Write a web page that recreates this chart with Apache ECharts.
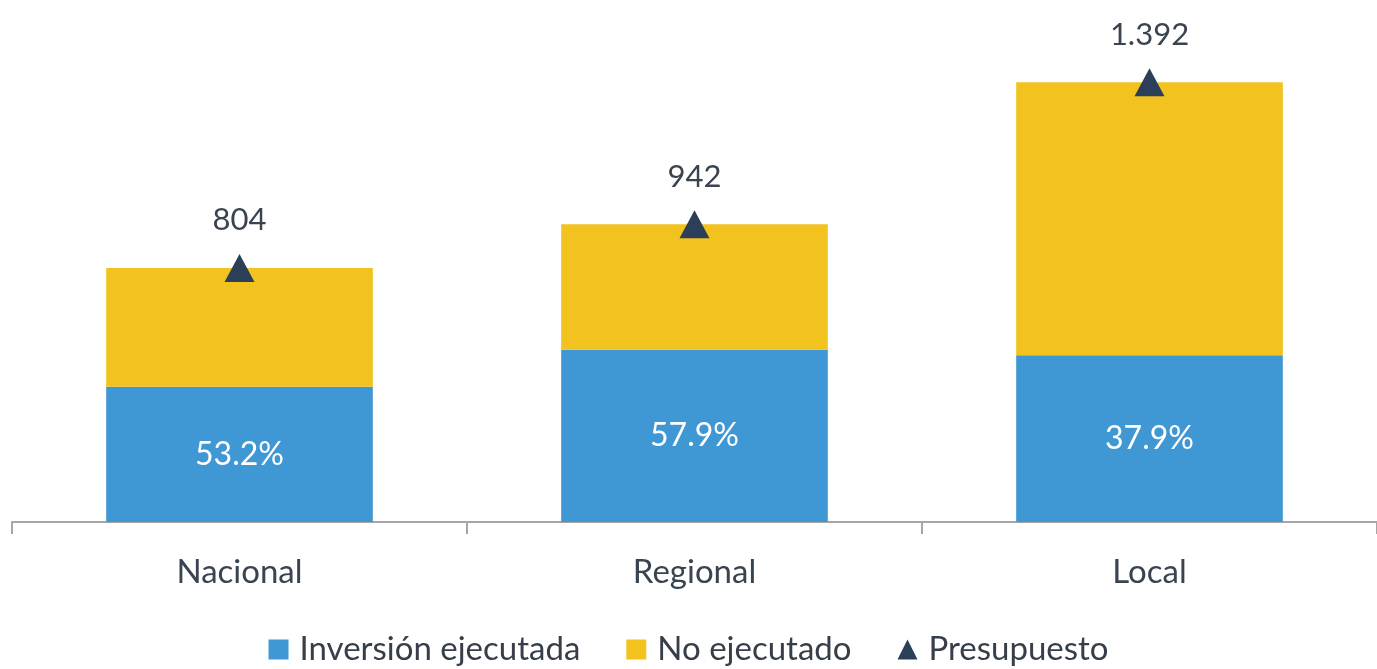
<!DOCTYPE html>
<html><head><meta charset="utf-8">
<script src="https://cdn.jsdelivr.net/npm/echarts@6/dist/echarts.min.js"></script>
<style>html,body{margin:0;padding:0;background:#fff}#c{width:1377px;height:669px}</style>
</head><body><div id="c"></div>
<script>
const categories = ['Nacional', 'Regional', 'Local'];
const ejecutada = [428, 545, 528];
const noEjecutado = [376, 397, 864];
const presupuesto = [804, 942, 1392];
const presupuestoLabels = ['804', '942', '1.392'];
const pctLabels = ['53.2%', '57.9%', '37.9%'];

const FONT = 'Lato';
const chart = echarts.init(document.getElementById('c'));
chart.setOption({
  animation: false,
  textStyle: { fontFamily: FONT },
  grid: { left: 12, right: -3, top: 48, bottom: 147 },
  legend: {
    bottom: -2, left: 'center', itemGap: 46, itemWidth: 20, itemHeight: 20,
    textStyle: { fontSize: 33, color: '#353e49', fontFamily: FONT, padding: [0, 0, 0, 6] },
    data: [
      { name: 'Inversión ejecutada', icon: 'rect' },
      { name: 'No ejecutado', icon: 'rect' },
      { name: 'Presupuesto', icon: 'triangle' }
    ]
  },
  xAxis: {
    type: 'category', data: categories,
    axisLine: { lineStyle: { color: '#a6a6a6', width: 2 } },
    axisTick: { show: true, length: 12, lineStyle: { color: '#a6a6a6', width: 2 } },
    axisLabel: { fontSize: 33, color: '#3a4450', margin: 34, fontFamily: FONT }
  },
  yAxis: { type: 'value', min: 0, max: 1500, show: false, splitLine: { show: false } },
  series: [
    {
      name: 'Inversión ejecutada', type: 'bar', stack: 't', barWidth: '58.6%',
      data: ejecutada, itemStyle: { color: '#3f97d3' },
      label: { show: true, position: 'inside', color: '#ffffff', fontSize: 32, fontFamily: FONT,
        formatter: p => pctLabels[p.dataIndex] }
    },
    {
      name: 'No ejecutado', type: 'bar', stack: 't', barWidth: '58.6%',
      data: noEjecutado, itemStyle: { color: '#f2c31f' }
    },
    {
      name: 'Presupuesto', type: 'scatter', symbol: 'triangle', symbolSize: [30, 28],
      data: presupuesto, itemStyle: { color: '#2b4058', opacity: 1 }, z: 5,
      label: { show: true, position: 'top', distance: 18, color: '#3a4450', fontSize: 31, fontFamily: FONT,
        formatter: p => presupuestoLabels[p.dataIndex] }
    }
  ]
});
</script></body></html>
